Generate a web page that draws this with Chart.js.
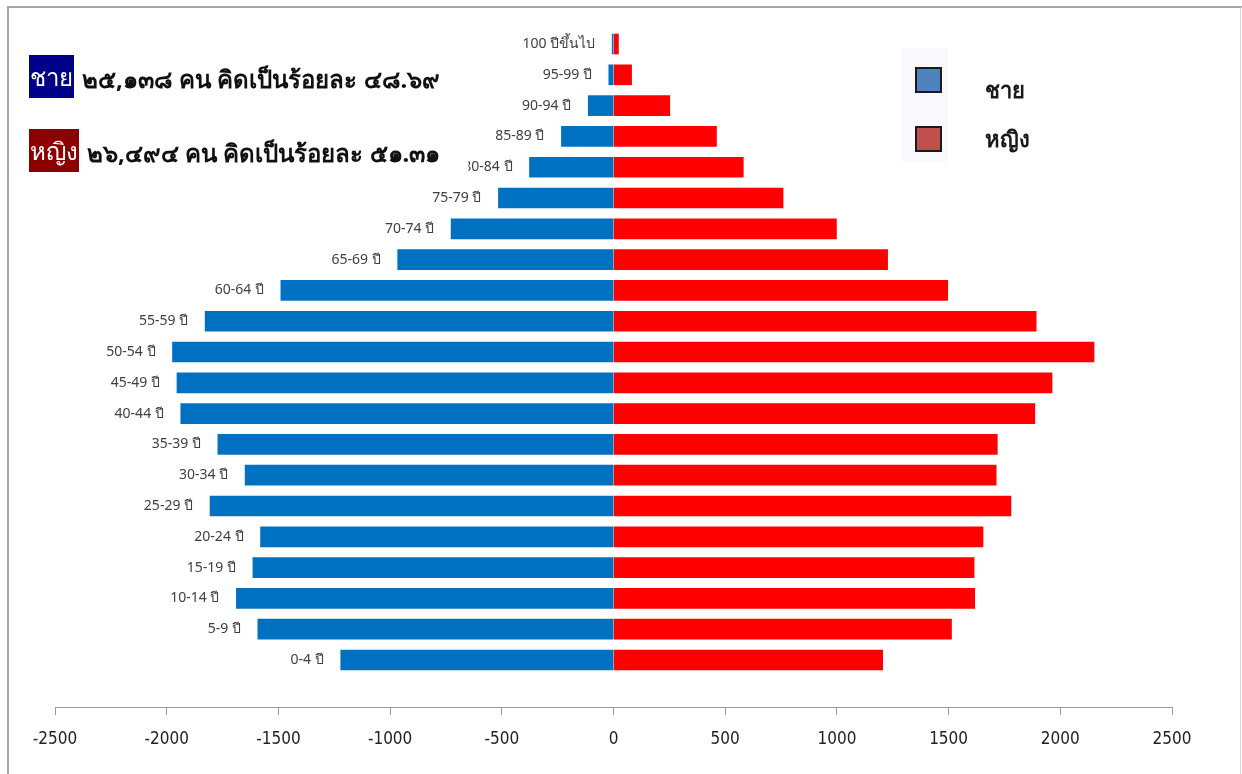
<!DOCTYPE html>
<html>
<head>
<meta charset="utf-8">
<script src="https://cdn.jsdelivr.net/npm/chart.js@4.4.0/dist/chart.umd.min.js"></script>
<style>
  html, body { margin: 0; padding: 0; background: #fff; }
  canvas { display: block; }
</style>
</head>
<body>
<canvas id="pyramid" width="1242" height="774"></canvas>
<script>
// age groups from youngest (bottom) to oldest (top)
const ageGroups = ['0-4 ปี', '5-9 ปี', '10-14 ปี', '15-19 ปี', '20-24 ปี', '25-29 ปี', '30-34 ปี',
    '35-39 ปี', '40-44 ปี', '45-49 ปี', '50-54 ปี', '55-59 ปี', '60-64 ปี', '65-69 ปี',
    '70-74 ปี', '75-79 ปี', '80-84 ปี', '85-89 ปี', '90-94 ปี', '95-99 ปี', '100 ปีขึ้นไป'];
const maleCounts = [1221, 1592, 1688, 1614, 1580, 1806, 1649, 1771, 1937, 1954, 1974,
    1828, 1489, 966, 727, 515, 376, 233, 113, 21, 6];
const femaleCounts = [1205, 1513, 1617, 1614, 1654, 1779, 1713, 1718, 1886, 1963, 2151,
    1892, 1496, 1227, 998, 759, 581, 461, 252, 81, 22];
const xTicks = [-2500, -2000, -1500, -1000, -500, 0, 500, 1000, 1500, 2000, 2500];

const legendItems = ['ชาย', 'หญิง'];
const summaryLines = [
    { tag: 'ชาย', text: '๒๕,๑๓๘ คน คิดเป็นร้อยละ ๔๘.๖๙' },
    { tag: 'หญิง', text: '๒๖,๔๙๔ คน คิดเป็นร้อยละ ๕๑.๓๑' }
];

const thaiFont = '"Noto Sans", "DejaVu Sans", sans-serif';

const ageLabelPlugin = {
    id: 'ageLabels',
    afterDatasetsDraw(chart) {
        const { ctx } = chart;
        const bars = chart.getDatasetMeta(0).data;
        ctx.save();
        ctx.font = '14px ' + thaiFont;
        ctx.fillStyle = '#404040';
        ctx.textAlign = 'right';
        ctx.textBaseline = 'middle';
        bars.forEach((bar, i) => {
            const left = Math.min(bar.x, bar.base);
            ctx.fillText(ageGroups[i], left - 17, bar.y);
        });
        ctx.restore();
    }
};

const overlayPlugin = {
    id: 'overlay',
    afterDraw(chart) {
        const { ctx } = chart;
        ctx.save();

        // outer frame
        ctx.strokeStyle = '#a6a6a6';
        ctx.lineWidth = 2;
        ctx.beginPath();
        ctx.moveTo(8, 774);
        ctx.lineTo(8, 7);
        ctx.lineTo(1242, 7);
        ctx.stroke();
        ctx.strokeStyle = '#d9d9d9';
        ctx.lineWidth = 1;
        ctx.beginPath();
        ctx.moveTo(1240.5, 7);
        ctx.lineTo(1240.5, 774);
        ctx.stroke();

        // summary text, top left (its white box hides part of a label, as in the original)
        const tagColors = ['#000088', '#8b0000'];
        const rows = [{ y: 55, h: 43 }, { y: 129, h: 43 }];
        summaryLines.forEach((line, i) => {
            const r = rows[i];
            ctx.font = '24px ' + thaiFont;
            const tagW = ctx.measureText(line.tag).width + 2;
            ctx.font = 'bold 24px ' + thaiFont;
            const textW = ctx.measureText(line.text).width;
            ctx.fillStyle = '#ffffff';
            ctx.fillRect(29 + tagW, r.y - 1, textW + 36, r.h + 2);
            ctx.fillStyle = tagColors[i];
            ctx.fillRect(29, r.y, tagW, r.h);
            ctx.textBaseline = 'middle';
            ctx.textAlign = 'center';
            ctx.fillStyle = '#ffffff';
            ctx.font = '24px ' + thaiFont;
            ctx.fillText(line.tag, 29 + tagW / 2, r.y + r.h / 2 + 3);
            ctx.textAlign = 'left';
            ctx.fillStyle = '#111111';
            ctx.font = 'bold 24px ' + thaiFont;
            ctx.fillText(line.text, 29 + tagW + 8, r.y + r.h / 2 + 5);
        });

        // legend
        ctx.fillStyle = '#f9f9fd';
        ctx.fillRect(901, 48, 47, 114);
        const swatch = ['#4f81bd', '#c0504d'];
        const swY = [68, 127];
        const textBase = [98, 147];
        legendItems.forEach((name, i) => {
            ctx.fillStyle = swatch[i];
            ctx.fillRect(916, swY[i], 25, 24);
            ctx.strokeStyle = '#1a1a1a';
            ctx.lineWidth = 2;
            ctx.strokeRect(916, swY[i], 25, 24);
            ctx.fillStyle = '#1a1a1a';
            ctx.font = 'bold 22px ' + thaiFont;
            ctx.textAlign = 'left';
            ctx.textBaseline = 'alphabetic';
            ctx.fillText(name, 985, textBase[i]);
        });
        ctx.restore();
    }
};

new Chart(document.getElementById('pyramid'), {
    type: 'bar',
    data: {
        datasets: [{
            label: legendItems[0],
            data: maleCounts.map((v, i) => ({ x: -v, y: i })),
            backgroundColor: '#0070c0',
            barThickness: 20,
            grouped: false
        }, {
            label: legendItems[1],
            data: femaleCounts.map((v, i) => ({ x: v, y: i })),
            backgroundColor: '#ff0000',
            barThickness: 20,
            grouped: false
        }]
    },
    options: {
        responsive: false,
        animation: false,
        devicePixelRatio: 1,
        indexAxis: 'y',
        layout: {
            padding: { left: 55, right: 70, top: 28, bottom: 0 }
        },
        scales: {
            y: {
                type: 'linear',
                min: -1.526,
                max: 20.52,
                offset: false,
                display: false
            },
            x: {
                type: 'linear',
                min: xTicks[0],
                max: xTicks[xTicks.length - 1],
                afterBuildTicks: scale => { scale.ticks = xTicks.map(v => ({ value: v })); },
                afterFit: scale => { scale.height = 67; },
                grid: { drawOnChartArea: false, drawTicks: true, tickLength: 8, color: '#999999' },
                border: { color: '#999999', width: 1 },
                ticks: {
                    padding: 14,
                    color: '#222222',
                    callback: v => String(v),
                    font: { family: '"Liberation Sans Narrow", "DejaVu Sans Condensed", "Roboto Condensed", sans-serif', size: 17 }
                }
            }
        },
        plugins: {
            legend: { display: false },
            tooltip: { enabled: false }
        }
    },
    plugins: [ageLabelPlugin, overlayPlugin]
});
</script>
</body>
</html>
